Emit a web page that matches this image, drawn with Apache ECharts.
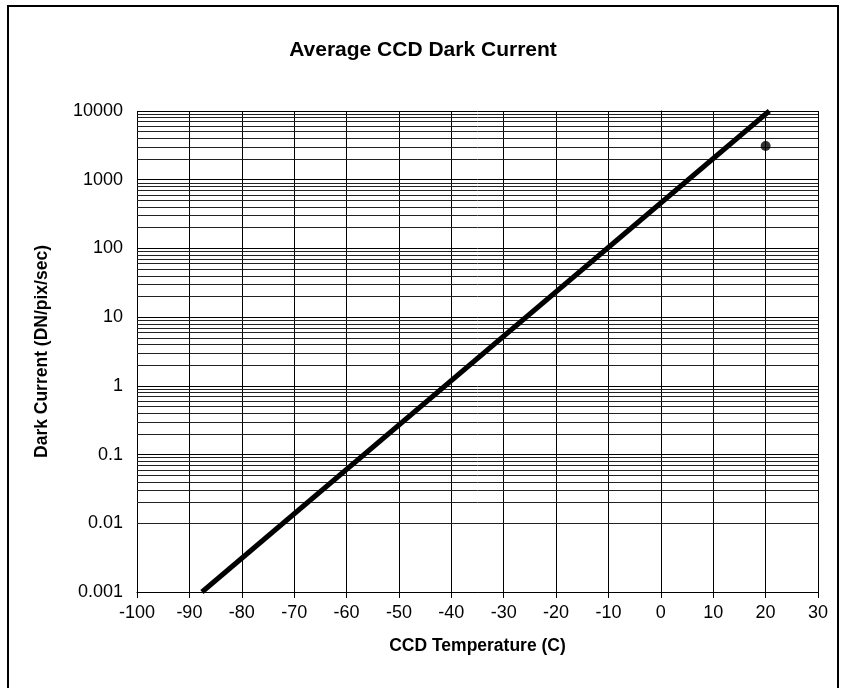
<!DOCTYPE html>
<html>
<head>
<meta charset="utf-8">
<script src="https://cdn.jsdelivr.net/npm/echarts@6/dist/echarts.min.js"></script>
<style>html,body{margin:0;padding:0;background:#fff}#c{width:846px;height:688px}</style>
</head>
<body>
<div id="c"></div>
<script>
// ---- data ----
var titleText = 'Average CCD Dark Current';
var xName = 'CCD Temperature (C)';
var yName = 'Dark Current (DN/pix/sec)';
var xTicks = [-100, -90, -80, -70, -60, -50, -40, -30, -20, -10, 0, 10, 20, 30];
var yTickLabels = ['0.001', '0.01', '0.1', '1', '10', '100', '1000', '10000'];
var yTickValues = [0.001, 0.01, 0.1, 1, 10, 100, 1000, 10000];
// fitted dark-current line (temperature C, DN/pix/sec)
var lineTemps = [-87.6, 20.7];
var lineValues = [0.001, 10000];
// single measured point
var pointTemps = [20];
var pointValues = [3100];
// minor gridline multipliers within each decade
var minorMultipliers = [2, 3, 4, 5, 6, 7, 8, 9];

var font = '"Liberation Sans", Arial, Helvetica, sans-serif';
var lineData = lineTemps.map(function (t, i) { return [t, lineValues[i]]; });
var pointData = pointTemps.map(function (t, i) { return [t, pointValues[i]]; });
var minorLines = [];
yTickValues.slice(0, -1).forEach(function (d) {
  minorMultipliers.forEach(function (m) { minorLines.push({ yAxis: +(d * m).toPrecision(3) }); });
});

var chart = echarts.init(document.getElementById('c'), null, { renderer: 'canvas' });
chart.setOption({
  animation: false,
  backgroundColor: '#fff',
  title: {
    text: titleText, left: 'center', top: 35,
    textStyle: { fontFamily: font, fontSize: 21, fontWeight: 'bold', color: '#000' }
  },
  graphic: [{
    type: 'rect', shape: { x: 8, y: 6, width: 830, height: 700 },
    style: { fill: 'none', stroke: '#000', lineWidth: 2 }, z: -1
  }],
  grid: { left: 137, right: 28, top: 111, bottom: 96 },
  xAxis: {
    type: 'value', min: xTicks[0], max: xTicks[xTicks.length - 1], interval: 10,
    name: xName, nameLocation: 'middle', nameGap: 45,
    nameTextStyle: { fontFamily: font, fontSize: 17.5, fontWeight: 'bold', color: '#000' },
    axisLine: { onZero: false, lineStyle: { color: '#000', width: 1 } },
    axisTick: { show: true, length: 6, lineStyle: { color: '#000' } },
    axisLabel: { fontFamily: font, fontSize: 18, color: '#000', margin: 12 },
    splitLine: { show: true, lineStyle: { color: '#000', width: 1 } }
  },
  yAxis: {
    type: 'log', logBase: 10, min: yTickValues[0], max: yTickValues[yTickValues.length - 1],
    name: yName, nameLocation: 'middle', nameGap: 86,
    nameTextStyle: { fontFamily: font, fontSize: 17.5, fontWeight: 'bold', color: '#000' },
    axisLine: { show: true, lineStyle: { color: '#000', width: 1 } },
    axisTick: { show: true, length: 7, lineStyle: { color: '#000' } },
    axisLabel: {
      fontFamily: font, fontSize: 18, color: '#000', margin: 14,
      formatter: function (v) {
        var i = yTickValues.findIndex(function (t) { return Math.abs(Math.log10(t) - Math.log10(v)) < 1e-6; });
        return i >= 0 ? yTickLabels[i] : '';
      }
    },
    splitLine: { show: true, lineStyle: { color: '#000', width: 1 } }
  },
  series: [
    {
      type: 'line', data: [], silent: true,
      markLine: {
        silent: true, symbol: 'none', label: { show: false },
        lineStyle: { color: '#222', width: 1, type: 'solid' },
        data: minorLines
      }
    },
    {
      type: 'line', data: lineData, showSymbol: false, symbol: 'none',
      lineStyle: { color: '#000', width: 5 }, z: 5
    },
    {
      type: 'scatter', data: pointData, symbol: 'circle', symbolSize: 10,
      itemStyle: { color: '#000' }, z: 6
    }
  ]
});
</script>
</body>
</html>
